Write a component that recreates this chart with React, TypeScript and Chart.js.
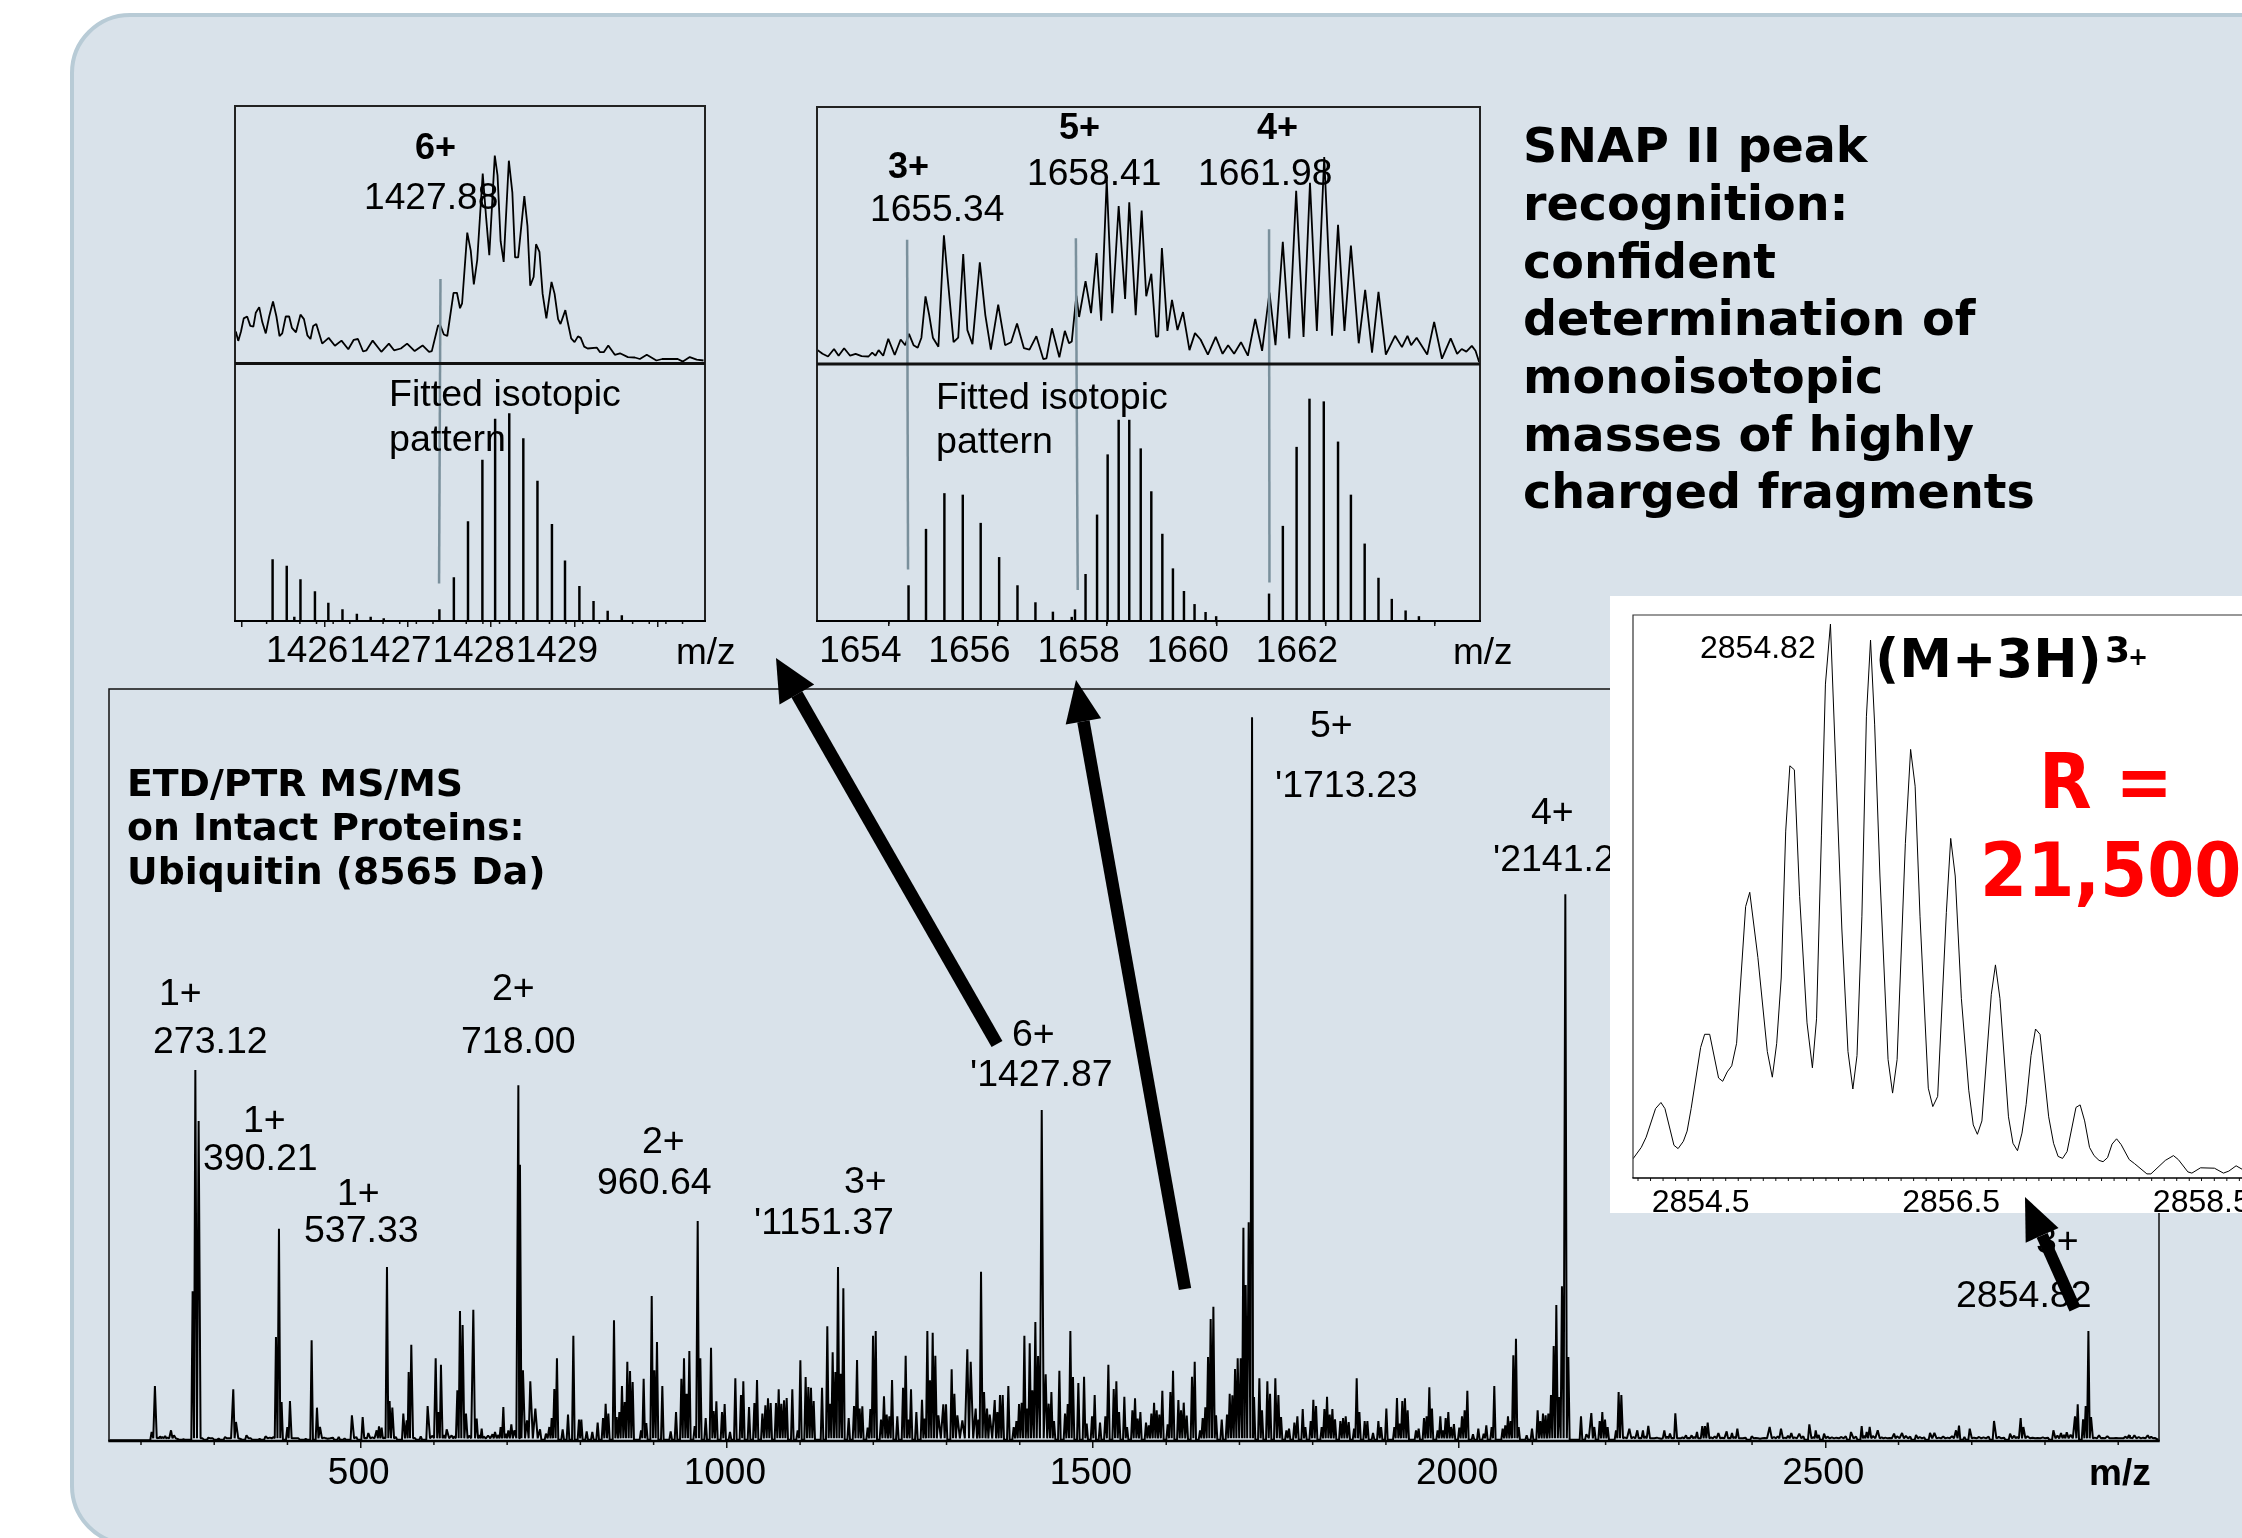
import React, { useEffect, useRef } from "react";
import { Chart, registerables } from "chart.js";
Chart.register(...registerables);

type P = [number, number];

/* ---------- full spectrum: [m/z, intensity] ---------- */
const peaksLowMass: P[] = [[214.5,27],[219,165],[226,14],[233,15],[241,32],[245,17],[270.5,449],[274.2,1113],[278.7,960],[314.7,12],[326,155],[329.7,57],[344,17],[370,14],[381,12],[384.3,312],[388.4,637],[392,117],[399.8,42],[403.4,120],[433,302],[440.3,100],[444.4,42],[488,77],[502.7,72],[510.4,24],[521.8,32],[525,44],[528.6,40],[535.9,522],[539.5,120],[543.2,100],[558.2,82],[562.8,62],[565.5,207],[569.1,289],[591.4,105],[602.4,248],[606.5,87],[609.6,229],[617.4,35],[624.2,17],[632,152],[635.6,390],[639.2,348],[643.8,82],[653.8,394],[658.4,67],[665.2,37],[683.4,27],[691.1,42],[694.8,102],[701.6,32],[705.7,50],[709.8,32],[715.3,1067],[717.5,829],[721.6,212],[727.1,62],[731.6,179]];
const peaksMidMass: P[] = [[738.5,97],[744.9,35],[753,22],[757.6,42],[760.8,69],[764.4,156],[768,248],[775.8,35],[783.1,79],[790.4,316],[798.1,64],[801.3,64],[808.6,29],[816.3,27],[823.6,55],[830.9,69],[834.5,112],[838.2,82],[845.9,362],[849.6,72],[853.2,87],[856.8,165],[860.5,117],[864.1,238],[867.8,210],[871.4,177],[882.8,32],[886.4,187],[890,54],[897.4,435],[901,212],[904.6,297],[911.9,165],[923.3,29],[930.6,87],[937.9,187],[941.5,248],[945.1,142],[948.8,270],[956.1,45],[960.2,660],[963.8,248],[971.1,69],[978.4,280],[982,90],[985.7,119],[993.4,87],[997,111],[1004.3,27],[1011.6,188],[1019.3,138],[1022.5,179],[1030.3,102],[1037.6,114],[1041.2,183],[1048.5,82],[1052.6,107],[1056.2,128],[1059.9,114],[1067.1,114],[1070.8,155],[1074.4,112],[1078.1,122],[1081.7,129],[1089.4,155],[1096.7,32],[1100.4,242],[1107.6,192],[1111.3,162],[1114.9,160],[1118.6,120],[1130,160],[1137.2,344],[1140.9,112],[1144.5,266],[1148.2,207],[1151.8,522],[1155.4,202],[1159.1,458],[1166.4,69],[1173.7,105],[1177.8,243],[1181.4,97],[1185,104],[1192.3,40],[1196,96],[1199.6,316],[1203.3,330],[1210.5,64],[1214.6,134],[1218.3,79],[1221.9,74],[1225.6,183],[1232.8,74],[1240.6,160],[1244.2,256],[1247.9,64],[1251.5,155],[1258.8,87],[1266.5,124],[1270.2,67],[1273.8,330],[1277.4,182],[1281.1,325],[1284.7,256],[1288.8,77],[1295.6,110],[1299.3,110],[1307,215],[1310.7,142]];
const peaksHighMass: P[] = [[1314.8,77],[1321.6,62],[1328.4,275],[1333,238],[1339.8,97],[1343.5,64],[1347.1,508],[1351.2,147],[1355.3,97],[1359,79],[1365.8,123],[1369.4,87],[1373,138],[1376.7,138],[1384.4,165],[1391.7,42],[1395.4,60],[1399,111],[1402.6,115],[1406.3,316],[1409.9,97],[1413.6,293],[1417.2,152],[1421.3,357],[1425,255],[1430,993],[1435.4,200],[1439.5,112],[1443.2,147],[1446.8,60],[1454.1,211],[1461.8,82],[1465.5,111],[1469.1,330],[1472.7,192],[1480,174],[1487.8,193],[1491.4,52],[1498.7,74],[1502.3,138],[1509.6,55],[1516.9,74],[1521,229],[1528.3,156],[1531.9,179],[1535.6,87],[1542.8,133],[1546.5,42],[1553.8,92],[1557.4,128],[1561,67],[1564.7,87],[1572.4,55],[1576.1,47],[1579.7,82],[1583.4,115],[1587,92],[1590.6,79],[1594.7,151],[1602,50],[1605.7,147],[1609.3,211],[1616.6,123],[1620.2,92],[1623.9,115],[1628,76],[1635.2,193],[1638.9,238],[1646.2,32],[1649.8,69],[1653.4,101],[1657.1,252],[1660.7,366],[1664.4,403],[1668,77],[1675.8,64],[1683,79],[1686.7,142],[1690.3,137],[1694,216],[1697.6,248],[1701.7,248],[1705.4,640],[1708.5,468],[1712.6,656],[1717.2,2171],[1719.9,132],[1727.2,188],[1730.8,92],[1738.1,179],[1741.8,142],[1749,188],[1753.2,138],[1756.8,72],[1764.1,32],[1767.7,37],[1775,55],[1779.1,74],[1786.4,96],[1790,42],[1797.3,60],[1800.9,124],[1804.6,105],[1812.3,42],[1816,96],[1819.6,133],[1823.3,79],[1826.9,96],[1830.5,65],[1837.8,60],[1841.5,69],[1845.1,74],[1849.2,57],[1856.5,37],[1860.1,188],[1863.8,87],[1871,60],[1874.7,60],[1882.4,24],[1889.7,60],[1893.4,42]];
const peaksTopMass: P[] = [[1900.6,97],[1911.5,42],[1915.1,129],[1918.8,52],[1922.4,120],[1926,128],[1929.7,92],[1941.1,32],[1944.7,37],[1952,69],[1955.6,74],[1959.3,161],[1962.9,97],[1970.6,32],[1974.3,74],[1977.9,32],[1981.6,69],[1985.2,87],[1988.9,42],[1992.9,51],[2000.2,40],[2003.9,74],[2007.5,92],[2011.2,151],[2018.9,20],[2026.2,37],[2033.5,22],[2037.1,47],[2044.4,42],[2048,165],[2059.4,37],[2063,47],[2066.7,74],[2070.3,60],[2074,257],[2077.6,307],[2081.3,42],[2092.2,17],[2099.5,37],[2107.2,92],[2110.9,60],[2114.5,82],[2118.1,77],[2121.8,82],[2125.4,138],[2129.1,285],[2132.7,408],[2136.8,132],[2140.4,464],[2145,1640],[2149.1,252],[2166.4,74],[2173.7,20],[2180.5,84],[2184.6,42],[2191.9,60],[2195.5,87],[2199.2,64],[2202.8,42],[2214.2,32],[2217.8,147],[2221.5,138],[2232.4,37],[2243.3,32],[2251,32],[2258.3,45],[2280.2,32],[2287.9,22],[2295.2,83],[2309.8,17],[2317.5,17],[2324.8,27],[2332,45],[2335.7,45],[2339.4,55],[2354,24],[2365.3,29],[2372.6,24],[2379.9,37],[2399.5,14],[2424,42],[2439.5,37],[2453.6,24],[2464.5,22],[2478.2,50],[2486.9,32],[2498.3,22],[2535.1,27],[2549.7,45],[2556.5,27],[2560.6,42],[2571.6,32],[2593.9,22],[2604.8,24],[2623.9,18],[2643,24],[2649,24],[2678.5,32],[2682.6,46],[2697.2,37],[2730.4,60],[2752.3,22],[2766.8,69],[2770.5,42],[2811.5,32],[2821.9,24],[2829.7,26],[2841,74],[2844.7,110],[2852,65],[2855.6,105],[2859.3,330],[2862.9,72],[2873.8,17],[2885.2,14],[2914.8,18],[2922.1,17],[2940.3,17]];
const grassLow: P[] = [[224,10],[229,12],[236,10],[250,6],[258,5],[284,8],[292,10],[298,8],[306,7],[320,8],[336,6],[350,8],[362,6],[376,10],[408,8],[415,8],[425,6],[450,10],[455,7],[462,10],[470,12],[478,8],[494,12],[507,9],[516,11],[532,10],[548,12],[574,9],[582,14],[598,16],[614,18],[628,14],[648,16],[662,18],[668,13],[674,16],[680,20],[688,18],[698,22]];
const grassHigh: P[] = [[2226,11],[2238,12],[2247,9],[2254,14],[2263,8],[2270,10],[2276,7],[2284,13],[2292,9],[2300,8],[2305,11],[2313,9],[2321,12],[2328,8],[2344,11],[2349,14],[2359,10],[2369,9],[2376,12],[2384,8],[2391,10],[2405,9],[2411,7],[2417,9],[2430,12],[2435,14],[2445,10],[2449,16],[2458,11],[2470,14],[2484,12],[2491,18],[2503,13],[2509,11],[2515,10],[2522,12],[2528,14],[2542,13],[2553,16],[2565,15],[2577,11],[2582,10],[2588,9],[2598,14],[2610,15],[2616,13],[2629,12],[2635,11],[2655,10],[2661,13],[2667,10],[2673,14],[2690,12],[2703,10],[2710,12],[2716,11],[2723,13],[2737,12],[2744,10],[2758,16],[2762,12],[2776,14],[2783,10],[2790,9],[2797,11],[2804,10],[2817,16],[2826,18],[2835,19],[2868,10],[2879,9],[2891,8],[2897,9],[2904,8],[2910,13],[2917,10],[2928,12],[2934,10],[2945,13],[2950,9]];

/* ---------- 1427 inset ---------- */
const inset6Profile: P[] = [[1425.43,32],[1425.459,22.6],[1425.492,32],[1425.525,45.1],[1425.566,47],[1425.604,37.6],[1425.641,36.9],[1425.67,50.8],[1425.711,56.4],[1425.748,41.4],[1425.79,30.1],[1425.831,47],[1425.877,62.1],[1425.918,47],[1425.955,27.5],[1425.988,30.1],[1426.03,47],[1426.071,47],[1426.104,35.7],[1426.153,31.2],[1426.207,48.9],[1426.249,44.4],[1426.29,28.2],[1426.327,24.5],[1426.36,37.6],[1426.397,39.5],[1426.468,19.9],[1426.546,25.6],[1426.621,17.7],[1426.7,22.9],[1426.782,14.3],[1426.848,23.7],[1426.898,24.5],[1426.96,12],[1427.001,13.2],[1427.075,22.9],[1427.179,11.7],[1427.27,19.9],[1427.332,13.2],[1427.414,15],[1427.489,19.9],[1427.58,12.4],[1427.675,18.1],[1427.753,11.7],[1427.786,12.4],[1427.861,38],[1427.89,37.6],[1427.931,29],[1427.972,27.5],[1428.047,70.7],[1428.088,70.7],[1428.125,55.3],[1428.15,60.2],[1428.212,130.9],[1428.254,112.9],[1428.291,79],[1428.332,103.5],[1428.398,190],[1428.44,144.8],[1428.477,108.4],[1428.543,208],[1428.576,188.1],[1428.613,122.3],[1428.65,101.6],[1428.712,202.8],[1428.754,171.2],[1428.787,106.1],[1428.824,106.1],[1428.898,167.4],[1428.936,137.3],[1428.969,77.9],[1429.01,86.5],[1429.039,119.3],[1429.08,111.7],[1429.118,69.6],[1429.163,45.1],[1429.225,81.6],[1429.262,69.6],[1429.304,44.4],[1429.333,39.5],[1429.391,53.4],[1429.415,43.3],[1429.461,25.2],[1429.502,21.4],[1429.543,27.1],[1429.576,25.6],[1429.618,16.9],[1429.659,15],[1429.771,15.8],[1429.808,11.3],[1429.853,11.3],[1429.907,18.1],[1429.986,8.7],[1430.048,10.2],[1430.143,6.4],[1430.226,6],[1430.287,4.5],[1430.37,8.7],[1430.486,3],[1430.556,4.5],[1430.742,4.5],[1430.804,1.9],[1430.887,6.4],[1430.97,3.8],[1431.052,3]];
const inset6Fit: P[] = [[1425.872,61.3],[1426.042,54.9],[1426.133,3.8],[1426.207,41.4],[1426.381,29.3],[1426.542,18],[1426.712,11.3],[1426.885,6.8],[1427.051,3.8],[1427.208,2.3],[1427.877,11.3],[1428.051,43.3],[1428.221,99.3],[1428.394,161],[1428.547,202],[1428.717,207.3],[1428.886,182.5],[1429.056,140],[1429.23,96.7],[1429.387,60.2],[1429.56,34.6],[1429.73,19.6],[1429.9,9.8],[1430.07,5.3]];
const inset6Majors = [1426,1427,1428,1429,1430,1431];
const inset6Labelled = [1426,1427,1428,1429];
const inset6Minors = [1425.8,1426.2,1426.4,1426.6,1426.8,1427.2,1427.4,1427.6,1427.8,1428.2,1428.4,1428.6,1428.8,1429.2,1429.4,1429.6,1429.8,1430.2,1430.4,1430.6,1430.8];

/* ---------- 1655-1662 inset ---------- */
const inset345Profile: P[] = [[1653.683,14.3],[1653.784,10.2],[1653.885,7.5],[1653.995,15],[1654.079,8.3],[1654.18,15.8],[1654.29,8.3],[1654.391,10.2],[1654.5,7.9],[1654.627,7.5],[1654.694,11.3],[1654.753,8.3],[1654.812,13.9],[1654.896,8.3],[1654.989,25.2],[1655.107,9],[1655.216,24.5],[1655.3,18.8],[1655.368,30.1],[1655.452,18.8],[1655.528,16.2],[1655.596,26.3],[1655.671,67.7],[1655.739,48.9],[1655.806,26.3],[1655.907,17.3],[1656.008,128.7],[1656.076,86.5],[1656.185,21.8],[1656.27,26.3],[1656.362,109.9],[1656.438,33.9],[1656.531,19.9],[1656.666,101.6],[1656.767,48.9],[1656.868,14.3],[1657.003,59.4],[1657.129,18.8],[1657.239,21.8],[1657.348,40.6],[1657.474,15.8],[1657.576,14.3],[1657.702,27.8],[1657.828,4.9],[1657.887,5.6],[1657.988,35.7],[1658.123,6.8],[1658.224,33.1],[1658.3,20.7],[1658.351,22.6],[1658.435,68.5],[1658.485,47],[1658.603,82.8],[1658.704,50.8],[1658.805,111],[1658.89,43.3],[1658.991,184.4],[1659.092,50.8],[1659.21,158],[1659.328,65.1],[1659.404,161.8],[1659.522,48.9],[1659.631,153.5],[1659.715,67.7],[1659.808,90.3],[1659.892,27.5],[1659.934,27.5],[1660.002,115.9],[1660.103,33.1],[1660.187,64],[1660.288,33.9],[1660.389,51.9],[1660.507,13.9],[1660.608,30.9],[1660.71,24.5],[1660.844,9.4],[1660.988,27.1],[1661.114,10.2],[1661.215,18.8],[1661.325,10.2],[1661.451,21.8],[1661.577,8.3],[1661.712,45.1],[1661.838,13.2],[1661.973,71.5],[1662.083,18.8],[1662.217,122.3],[1662.335,25.6],[1662.462,173.1],[1662.597,27.1],[1662.715,181.3],[1662.841,33.1],[1662.976,206.9],[1663.119,28.2],[1663.229,139.2],[1663.347,33.1],[1663.465,118.5],[1663.608,20.7],[1663.726,74.1],[1663.852,11.3],[1663.97,72.2],[1664.105,9.4],[1664.274,28.2],[1664.4,16.9],[1664.501,28.2],[1664.568,18.8],[1664.669,26.3],[1664.863,9.4],[1664.99,42.1],[1665.133,5.3],[1665.293,25.6],[1665.411,10.2],[1665.495,15],[1665.58,12.4],[1665.68,18.1],[1665.748,13.2],[1665.815,1.9]];
const inset345Fit: P[] = [[1655.36,35.4],[1655.68,91.8],[1656.017,127.5],[1656.354,126],[1656.682,97.8],[1657.02,63.6],[1657.356,35.4],[1657.685,18.4],[1658.005,9],[1658.35,3.8],[1658.41,11.3],[1658.603,46.7],[1658.814,106.1],[1659.008,166.3],[1659.21,200.9],[1659.404,200.9],[1659.614,172.3],[1659.808,129.4],[1660.01,86.9],[1660.204,52.3],[1660.406,29.7],[1660.6,16.6],[1660.802,8.7],[1660.996,4.5],[1661.965,27.1],[1662.218,94.8],[1662.47,173.8],[1662.706,222],[1662.968,219.3],[1663.229,179.1],[1663.465,126],[1663.717,77.1],[1663.97,42.9],[1664.214,21.8],[1664.467,10.2],[1664.711,4.5]];
const inset345Majors = [1654,1656,1658,1660,1662,1664];
const inset345Labelled = [1654,1656,1658,1660,1662];
const inset345Minors = [1655,1657,1659,1661,1663,1665];

/* ---------- (M+3H)3+ inset ---------- */
const inset3Profile: P[] = [[2853.96,19.2],[2854.026,30.6],[2854.065,40.8],[2854.14,69.4],[2854.183,75.5],[2854.215,69.4],[2854.287,32.7],[2854.32,29.4],[2854.362,36.7],[2854.392,46.9],[2854.424,69.4],[2854.5,130.6],[2854.532,143.7],[2854.572,143.7],[2854.643,100],[2854.676,96.7],[2854.712,106.1],[2854.748,112.2],[2854.787,134.7],[2854.859,271.4],[2854.892,285.7],[2854.957,220.4],[2855.032,126.5],[2855.072,100.8],[2855.107,134.7],[2855.143,200],[2855.179,346.9],[2855.212,412.2],[2855.248,408.2],[2855.29,281.6],[2855.349,155.1],[2855.392,110.2],[2855.425,159.2],[2855.464,342.9],[2855.496,493.9],[2855.536,553.9],[2855.581,404.1],[2855.627,249],[2855.676,126.5],[2855.715,89],[2855.748,122.4],[2855.787,261.2],[2855.823,461.2],[2855.856,538],[2855.889,453.1],[2855.931,302],[2855.996,118.4],[2856.032,84.9],[2856.068,118.4],[2856.134,334.7],[2856.176,428.6],[2856.212,391.8],[2856.251,261.2],[2856.317,89.8],[2856.353,71.4],[2856.392,81.6],[2856.461,265.3],[2856.496,339.6],[2856.532,302],[2856.581,179.6],[2856.64,87.8],[2856.676,53.1],[2856.709,43.7],[2856.745,57.1],[2856.82,183.7],[2856.853,213.1],[2856.889,179.6],[2856.957,61.2],[2856.993,34.7],[2857.029,27.3],[2857.065,44.9],[2857.098,73.5],[2857.137,122.4],[2857.173,149],[2857.209,143.7],[2857.278,61.2],[2857.317,34.7],[2857.353,21.6],[2857.389,19.6],[2857.425,26.5],[2857.496,70.6],[2857.529,73.1],[2857.565,57.1],[2857.604,30.6],[2857.64,22.4],[2857.68,17.6],[2857.712,16.3],[2857.748,20.4],[2857.784,33.9],[2857.82,39.2],[2857.856,33.5],[2857.921,18.4],[2857.964,14.3],[2858.062,4.1],[2858.094,4.1],[2858.209,17.6],[2858.274,22.4],[2858.313,18.4],[2858.389,6.1],[2858.421,4.9],[2858.49,10.2],[2858.601,9.8],[2858.673,4.9],[2858.716,6.9],[2858.774,12.2],[2858.83,8.2]];
const inset3Labelled = [2854.5,2856.5,2858.5];
const inset3Minors = [2854,2854.1,2854.2,2854.3,2854.4,2854.6,2854.7,2854.8,2854.9,2855,2855.1,2855.2,2855.3,2855.4,2855.5,2855.6,2855.7,2855.8,2855.9,2856,2856.1,2856.2,2856.3,2856.4,2856.6,2856.7,2856.8,2856.9,2857,2857.1,2857.2,2857.3,2857.4,2857.5,2857.6,2857.7,2857.8,2857.9,2858,2858.1,2858.2,2858.3,2858.4,2858.6,2858.7,2858.8];

/* ---------- main axis ---------- */
const mainMajors = [500,1000,1500,2000,2500];
const mainMinors = [200,300,400,600,700,800,900,1100,1200,1300,1400,1600,1700,1800,1900,2100,2200,2300,2400,2600,2700,2800,2900];

/* ---------- isotope guide lines: m/z + heights in the two panels ---------- */
const guides6 = [[1427.89,84.6,1427.873,37.6]];
const guides345 = [[1655.334,124.2,1655.351,51.5],[1658.426,125.7,1658.46,30.9],[1661.965,134.7,1661.973,38.4]];

const SANS = "'Liberation Sans', Arial, sans-serif";
const DEJA = "'DejaVu Sans', Verdana, sans-serif";

function spectrum(): { x: number; y: number }[] {
  const all = [...peaksLowMass, ...peaksMidMass, ...peaksHighMass, ...peaksTopMass, ...grassLow, ...grassHigh].sort((a, b) => a[0] - b[0]);
  const out: { x: number; y: number }[] = [{ x: 157, y: 2 }, { x: all[0][0] - 1.8, y: 3 }];
  all.forEach((p, i) => {
    out.push({ x: p[0], y: p[1] });
    const next = all[i + 1];
    if (!next) return;
    const gap = next[0] - p[0];
    if (gap > 7) {
      out.push({ x: p[0] + 1.8, y: 4 });
      out.push({ x: next[0] - 1.8, y: 4 });
    } else {
      out.push({ x: (p[0] + next[0]) / 2, y: 8 });
    }
  });
  out.push({ x: 2955, y: 3 });
  return out;
}
const xy = (a: P[]) => a.map(([x, y]) => ({ x, y }));

interface Box { l: number; t: number; r: number; b: number; }
const PAD = { left: 40, right: 50, top: 20 };

function decorate(o: { minors: number[]; minorLen: number; frame: string; lw: number; bottomW: number; divider?: boolean; guides?: number[][]; noRight?: boolean; tickLw: number }) {
  return {
    id: "decor",
    afterDatasetsDraw(c: any) {
      const { ctx, chartArea: a, scales } = c;
      ctx.save();
      ctx.strokeStyle = "#111";
      ctx.lineWidth = o.tickLw;
      o.minors.forEach((v) => {
        const x = scales.x.getPixelForValue(v);
        ctx.beginPath(); ctx.moveTo(x, a.bottom); ctx.lineTo(x, a.bottom + o.minorLen); ctx.stroke();
      });
      if (o.guides) {
        ctx.strokeStyle = "#7a909c"; ctx.lineWidth = 2.5;
        o.guides.forEach(([m0, h0, m1, h1]) => {
          ctx.beginPath();
          ctx.moveTo(scales.x.getPixelForValue(m0), scales.yU.getPixelForValue(h0));
          ctx.lineTo(scales.x.getPixelForValue(m1), scales.yL.getPixelForValue(h1));
          ctx.stroke();
        });
      }
      ctx.strokeStyle = o.frame; ctx.lineWidth = o.lw;
      ctx.beginPath();
      ctx.moveTo(a.left, a.bottom); ctx.lineTo(a.left, a.top); ctx.lineTo(a.right, a.top);
      if (!o.noRight) ctx.lineTo(a.right, a.bottom);
      ctx.stroke();
      ctx.strokeStyle = "#000"; ctx.lineWidth = o.bottomW;
      ctx.beginPath(); ctx.moveTo(a.left - o.lw / 2, a.bottom); ctx.lineTo(a.right + o.lw / 2, a.bottom); ctx.stroke();
      if (o.divider) {
        const y = scales.yU.bottom;
        ctx.lineWidth = 3; ctx.strokeStyle = "#111";
        ctx.beginPath(); ctx.moveTo(a.left, y); ctx.lineTo(a.right, y); ctx.stroke();
      }
      ctx.restore();
    },
  };
}

function xAxis(o: { min: number; max: number; majors: number[]; labelled: number[]; size: number; labelOffset: number; tickLen: number; pad: number; tickLw: number }) {
  return {
    type: "linear", min: o.min, max: o.max, offset: false,
    grid: { drawOnChartArea: false, drawTicks: true, tickLength: o.tickLen, tickColor: "#111", tickWidth: o.tickLw, lineWidth: o.tickLw },
    border: { display: false },
    afterBuildTicks: (s: any) => { s.ticks = o.majors.map((value) => ({ value })); },
    afterFit: (s: any) => { s.height = 70; },
    ticks: {
      autoSkip: false, maxRotation: 0, minRotation: 0, padding: o.pad, labelOffset: o.labelOffset, color: "#000",
      font: { family: SANS, size: o.size },
      callback: (v: number) => (o.labelled.includes(v) ? String(v) : ""),
    },
  };
}

const baseOpts = (box: Box) => ({
  responsive: false, animation: false, events: [] as string[],
  layout: { padding: { left: PAD.left, right: PAD.right, top: PAD.top, bottom: 0 } },
  plugins: { legend: { display: false }, tooltip: { enabled: false } },
  elements: { point: { radius: 0 }, line: { tension: 0, borderJoinStyle: "bevel" } },
});

const canvasRect = (b: Box) => ({ left: b.l - PAD.left, top: b.t - PAD.top, width: b.r - b.l + PAD.left + PAD.right, height: b.b - b.t + PAD.top + 70 });

const BOX_MAIN: Box = { l: 109, t: 689, r: 2159, b: 1441 };
const BOX_6: Box = { l: 235, t: 106, r: 705, b: 621 };
const BOX_345: Box = { l: 817, t: 107, r: 1480, b: 621 };
const BOX_3: Box = { l: 1633, t: 615, r: 2300, b: 1178 };

function useChart(ref: React.RefObject<HTMLCanvasElement | null>, make: () => any) {
  useEffect(() => {
    const c = new Chart(ref.current as HTMLCanvasElement, make());
    return () => c.destroy();
  }, []);
}

function Cv({ box, r }: { box: Box; r: React.RefObject<HTMLCanvasElement | null> }) {
  const q = canvasRect(box);
  return <canvas ref={r} width={q.width} height={q.height} style={{ position: "absolute", left: q.left, top: q.top, width: q.width, height: q.height, display: "block" }} />;
}

function Lbl({ x, y, s, t, bold, font, color, cond }: { x: number; y: number; s: number; t: React.ReactNode; bold?: boolean; font?: string; color?: string; cond?: boolean }) {
  return (
    <div style={{ position: "absolute", left: x, top: y - 0.8465 * s, fontSize: s, lineHeight: `${s}px`, fontFamily: font || SANS, fontWeight: bold ? 700 : 400, color: color || "#000", whiteSpace: "pre", fontStretch: cond ? "condensed" : "normal" }}>
      {t}
    </div>
  );
}

function Arrow({ x0, y0, x1, y1, w, hl, hw }: { x0: number; y0: number; x1: number; y1: number; w: number; hl: number; hw: number }) {
  const d = Math.hypot(x1 - x0, y1 - y0);
  const ux = (x1 - x0) / d, uy = (y1 - y0) / d;
  const bx = x1 - ux * hl, by = y1 - uy * hl;
  const px = -uy, py = ux;
  return (
    <g>
      <line x1={x0} y1={y0} x2={bx} y2={by} stroke="#000" strokeWidth={w} />
      <polygon fill="#000" points={`${x1},${y1} ${bx + px * hw / 2},${by + py * hw / 2} ${bx - px * hw / 2},${by - py * hw / 2}`} />
    </g>
  );
}

const mainLabels: [string, number, number][] = [
  ["1+", 159, 1006], ["273.12", 153, 1054], ["1+", 243, 1133], ["390.21", 203, 1171], ["1+", 337, 1206], ["537.33", 304, 1243],
  ["2+", 492, 1001], ["718.00", 461, 1054], ["2+", 642, 1154], ["960.64", 597, 1195], ["3+", 844, 1194], ["'1151.37", 754, 1235],
  ["6+", 1012, 1047], ["'1427.87", 970, 1087], ["5+", 1310, 738], ["'1713.23", 1275, 798], ["4+", 1531, 825], ["'2141.2", 1493, 872],
  ["3+", 2036, 1254], ["2854.82", 1956, 1308],
];
const snapLines = ["SNAP II peak", "recognition:", "confident", "determination of", "monoisotopic", "masses of highly", "charged fragments"];
const titleLines = ["ETD/PTR MS/MS", "on Intact Proteins:", "Ubiquitin (8565 Da)"];

export default function App() {
  const rMain = useRef<HTMLCanvasElement>(null);
  const r6 = useRef<HTMLCanvasElement>(null);
  const r345 = useRef<HTMLCanvasElement>(null);
  const r3 = useRef<HTMLCanvasElement>(null);

  useChart(rMain, () => ({
    type: "line",
    data: { datasets: [{ data: spectrum(), borderColor: "#000", borderWidth: 2, pointRadius: 0, fill: false }] },
    options: {
      ...baseOpts(BOX_MAIN),
      scales: {
        x: xAxis({ min: 156.3, max: 2955.7, majors: mainMajors, labelled: mainMajors, size: 37, labelOffset: -2, tickLen: 7, pad: 4, tickLw: 1.5 }),
        y: { type: "linear", display: false, min: 0, max: 2256 },
      },
    },
    plugins: [decorate({ minors: mainMinors, minorLen: 4, frame: "#111", lw: 1.5, bottomW: 2.5, tickLw: 1.5 })],
  }));

  const twoPanel = (box: Box, profile: P[], fit: P[], xo: any, minors: number[], guides: number[][], h: number) => ({
    type: "line",
    data: {
      datasets: [
        { type: "line", data: xy(profile), yAxisID: "yU", borderColor: "#000", borderWidth: 1.8, pointRadius: 0, fill: false },
        { type: "bar", data: xy(fit), yAxisID: "yL", backgroundColor: "#000", barThickness: 1.8, grouped: false },
      ],
    },
    options: {
      ...baseOpts(box),
      scales: {
        x: xAxis(xo),
        yU: { type: "linear", display: false, min: 0, max: h, stack: "s", stackWeight: 1, weight: 2, position: "left" },
        yL: { type: "linear", display: false, min: 0, max: h, stack: "s", stackWeight: 1, weight: 1, position: "left" },
      },
    },
    plugins: [decorate({ minors, minorLen: 3, frame: "#222", lw: 2, bottomW: 2, divider: true, guides, tickLw: 1.5 })],
  });

  useChart(r6, () => twoPanel(BOX_6, inset6Profile, inset6Fit,
    { min: 1425.42, max: 1431.07, majors: inset6Majors, labelled: inset6Labelled, size: 37, labelOffset: 24, tickLen: 6, pad: 3, tickLw: 1.5 },
    inset6Minors, guides6, 257.5));

  useChart(r345, () => twoPanel(BOX_345, inset345Profile, inset345Fit,
    { min: 1653.683, max: 1665.83, majors: inset345Majors, labelled: inset345Labelled, size: 37, labelOffset: 26, tickLen: 5, pad: 4, tickLw: 1.5 },
    inset345Minors, guides345, 257));

  useChart(r3, () => ({
    type: "line",
    data: { datasets: [{ data: xy(inset3Profile), borderColor: "#000", borderWidth: 1, pointRadius: 0, fill: false }] },
    options: {
      ...baseOpts(BOX_3),
      scales: {
        x: xAxis({ min: 2853.96, max: 2859.284, majors: inset3Labelled, labelled: inset3Labelled, size: 32, labelOffset: 0, tickLen: 3, pad: 3, tickLw: 1 }),
        y: { type: "linear", display: false, min: 0, max: 563 },
      },
    },
    plugins: [decorate({ minors: inset3Minors, minorLen: 3, frame: "#333", lw: 1.2, bottomW: 1.5, noRight: true, tickLw: 1 })],
  }));

  return (
    <div style={{ position: "absolute", left: 0, top: 0, width: 2242, height: 1538, overflow: "hidden", background: "#fff" }}>
      <div style={{ position: "absolute", left: 70, top: 13, width: 2400, height: 1533, boxSizing: "border-box", borderRadius: 60, border: "4px solid #b8cbd6", background: "#d9e2ea" }} />
      <Cv box={BOX_MAIN} r={rMain} />
      <Cv box={BOX_6} r={r6} />
      <Cv box={BOX_345} r={r345} />

      {mainLabels.map(([t, x, y], i) => <Lbl key={i} x={x} y={y} s={37.5} t={t} />)}
      <Lbl x={2089} y={1485} s={37} bold t="m/z" />
      {titleLines.map((t, i) => <Lbl key={t} x={127} y={796.5 + i * 44.4} s={37.8} bold font={DEJA} t={t} />)}
      {snapLines.map((t, i) => <Lbl key={t} x={1523} y={162.5 + i * 57.7} s={47.6} bold font={DEJA} t={t} />)}

      <Lbl x={415} y={159} s={36} bold t="6+" />
      <Lbl x={364} y={209} s={37.2} t="1427.88" />
      <Lbl x={389} y={407} s={37.6} t="Fitted isotopic" />
      <Lbl x={389} y={452} s={37.6} t="pattern" />
      <Lbl x={676} y={664} s={37} t="m/z" />

      <Lbl x={888} y={178} s={36} bold t="3+" />
      <Lbl x={870} y={221} s={37.2} t="1655.34" />
      <Lbl x={1059} y={139} s={36} bold t="5+" />
      <Lbl x={1027} y={185} s={37.2} t="1658.41" />
      <Lbl x={1257} y={139} s={36} bold t="4+" />
      <Lbl x={1198} y={185} s={37.2} t="1661.98" />
      <Lbl x={936} y={409.5} s={37.6} t="Fitted isotopic" />
      <Lbl x={936} y={453.5} s={37.6} t="pattern" />
      <Lbl x={1453} y={664} s={37} t="m/z" />

      <div style={{ position: "absolute", left: 1610, top: 596, width: 640, height: 617, background: "#fff" }} />
      <Cv box={BOX_3} r={r3} />
      <Lbl x={1700} y={658} s={32} t="2854.82" />
      <Lbl x={1875} y={677} s={53} bold font={DEJA} t="(M+3H)" />
      <Lbl x={2105} y={662} s={36} bold font={DEJA} t="3" />
      <Lbl x={2128} y={665} s={24} bold font={DEJA} t="+" />
      <Lbl x={2039} y={808} s={76} bold font={DEJA} cond color="#ff0000" t="R =" />
      <Lbl x={1980} y={897} s={75.3} bold font={DEJA} cond color="#ff0000" t="21,500" />

      <svg width={2242} height={1538} style={{ position: "absolute", left: 0, top: 0 }}>
        <Arrow x0={997} y0={1044} x1={776} y1={658} w={12.5} hl={42} hw={40} />
        <Arrow x0={1185} y0={1289} x1={1076} y1={680} w={12.5} hl={42} hw={36} />
        <Arrow x0={2075} y0={1309} x1={2025} y1={1197} w={12} hl={42} hw={36} />
      </svg>
    </div>
  );
}
